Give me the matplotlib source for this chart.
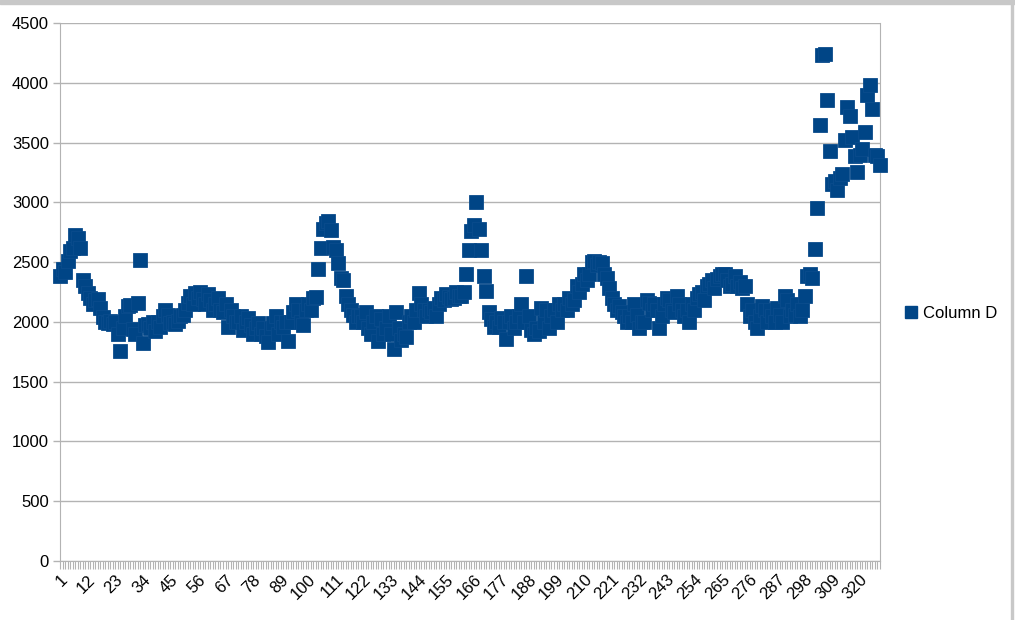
import numpy as np
import matplotlib
matplotlib.use('Agg')
import matplotlib.pyplot as plt
from matplotlib.lines import Line2D
from matplotlib.patches import Rectangle

plt.rcParams['font.family'] = ['Liberation Sans', 'DejaVu Sans']

# values of "Column D", one per row (rows 1..328)
column_d = [
    2380, 2440, 2420, 2510, 2590, 2620, 2730, 2700, 2620, 2350,
    2300, 2240, 2200, 2150, 2180, 2190, 2120, 2040, 2000, 1990,
    2010, 1980, 2000, 1900, 1760, 1950, 2050, 2130, 2140, 1940,
    1900, 2160, 2520, 1820, 1970, 1980, 1950, 2000, 1920, 2000,
    1960, 2050, 2100, 2060, 1990, 2000, 1980, 2010, 2050, 2060,
    2100, 2160, 2220, 2150, 2240, 2200, 2250, 2190, 2150, 2230,
    2180, 2100, 2150, 2200, 2100, 2080, 2150, 1960, 2100, 2050,
    2000, 2000, 2050, 1930, 2000, 2030, 1970, 1900, 1950, 1990,
    1900, 1950, 1880, 1830, 1950, 1990, 2050, 1900, 2000, 1960,
    2000, 1840, 2000, 2080, 2150, 2100, 2000, 1970, 2100, 2150,
    2100, 2200, 2210, 2440, 2620, 2780, 2830, 2840, 2770, 2630,
    2600, 2490, 2370, 2350, 2220, 2150, 2100, 2060, 2000, 2050,
    2050, 2000, 2080, 1950, 1900, 2000, 2050, 1840, 2020, 1900,
    1950, 2050, 1900, 1770, 2080, 1950, 1850, 1900, 1870, 2000,
    2050, 2000, 2100, 2240, 2150, 2100, 2050, 2100, 2080, 2120,
    2050, 2150, 2200, 2180, 2230, 2210, 2190, 2200, 2250, 2220,
    2220, 2250, 2400, 2600, 2760, 2810, 3000, 2780, 2600, 2380,
    2260, 2080, 2020, 1960, 2000, 1960, 2030, 2000, 1860, 2000,
    2050, 1950, 2000, 2050, 2150, 2000, 2380, 2050, 1930, 1900,
    1950, 1920, 2120, 2000, 2100, 1950, 2050, 2100, 2000, 2150,
    2100, 2150, 2100, 2200, 2150, 2180, 2300, 2250, 2320, 2400,
    2350, 2400, 2500, 2510, 2480, 2500, 2490, 2400, 2370, 2280,
    2200, 2150, 2100, 2130, 2080, 2050, 2000, 2050, 2000, 2150,
    2060, 1950, 2000, 2000, 2180, 2160, 2100, 2150, 2100, 1950,
    2050, 2150, 2200, 2180, 2100, 2080, 2220, 2150, 2100, 2050,
    2100, 2000, 2150, 2100, 2200, 2230, 2250, 2180, 2300, 2320,
    2350, 2280, 2360, 2380, 2400, 2400, 2350, 2300, 2320, 2380,
    2300, 2330, 2280, 2300, 2150, 2050, 2100, 2000, 1950, 2050,
    2130, 2100, 2000, 2100, 2050, 2000, 2120, 2060, 2000, 2220,
    2180, 2050, 2100, 2060, 2150, 2050, 2100, 2220, 2380, 2400,
    2370, 2610, 2950, 3650, 4230, 4240, 3860, 3430, 3150, 3180,
    3100, 3200, 3240, 3520, 3800, 3720, 3550, 3390, 3250, 3400,
    3450, 3590, 3900, 3980, 3780, 3400, 3390, 3310,
]
rows = np.arange(1, len(column_d) + 1)
x_labels = [str(r) for r in rows[::11]]
y_ticks = list(range(0, 4501, 500))
series_name = 'Column D'

blue = '#004586'
grid_col = '#b3b3b3'
fs = 12

fig = plt.figure(figsize=(10.15, 6.2), dpi=100)
ax = fig.add_axes([60 / 1015, 1 - 561 / 620, 820 / 1015, 538 / 620])

ax.plot(rows, column_d, ls='none', marker='s', ms=9.4, color=blue,
        mec='#0a4c8c', mew=0.6, clip_on=False, zorder=3)

ax.set_xlim(1, len(column_d))
ax.set_ylim(0, 4500)
ax.set_yticks(y_ticks)
ax.yaxis.grid(True, color=grid_col, lw=1)
ax.set_axisbelow(True)

ax.set_xticks(rows[::11])
ax.set_xticklabels(x_labels, rotation=45, ha='right', rotation_mode='anchor')
ax.set_xticks(rows, minor=True)

ax.tick_params(axis='x', which='both', direction='out', length=6, color=grid_col,
               width=0.8, labelsize=fs, pad=2)
ax.tick_params(axis='y', direction='out', length=5, color=grid_col, width=1,
               labelsize=fs, pad=3)

for side in ['left', 'bottom', 'right']:
    ax.spines[side].set_color(grid_col)
ax.spines['top'].set_visible(False)

handle = Line2D([], [], ls='none', marker='s', ms=8, color=blue)
fig.legend([handle], [series_name], loc='center left', frameon=False,
           bbox_to_anchor=(888 / 1015, 1 - 313 / 620), fontsize=fs,
           handletextpad=0.2, handlelength=1.0)

# window frame bits of the screenshot
fig.patches.append(Rectangle((0, 1 - 4 / 620), 1, 4 / 620, transform=fig.transFigure,
                             color='#c8c8c8', zorder=0))
fig.patches.append(Rectangle((1 - 4 / 1015, 0), 2 / 1015, 1, transform=fig.transFigure,
                             color='#c8c8c8', zorder=0))

fig.savefig('out.png', dpi=100)
